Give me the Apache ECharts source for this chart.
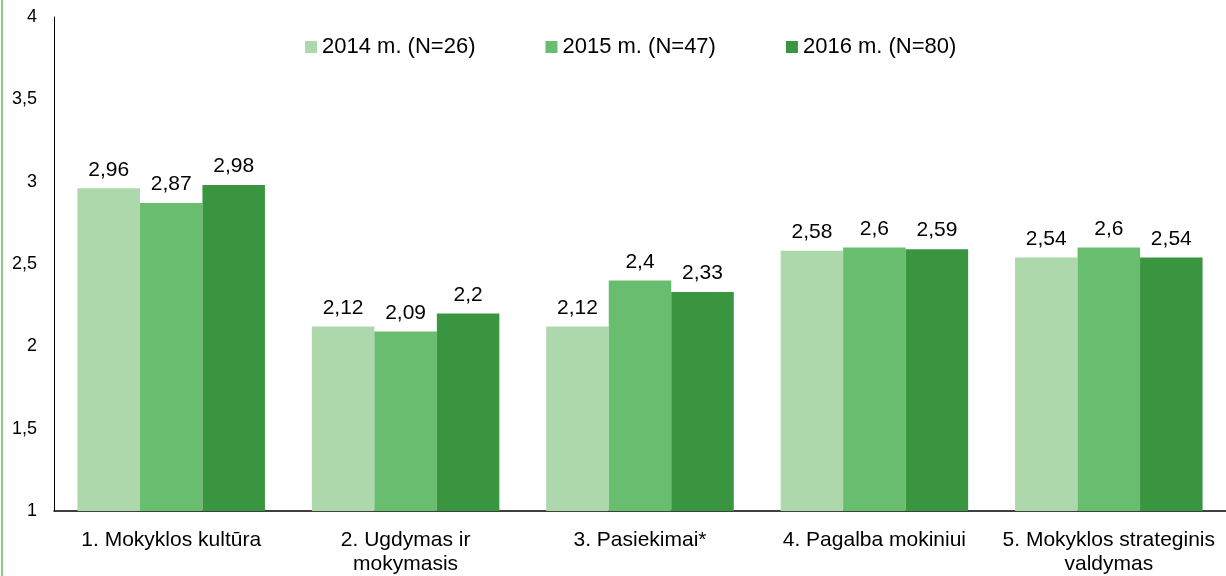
<!DOCTYPE html>
<html>
<head>
<meta charset="utf-8">
<script src="https://cdn.jsdelivr.net/npm/echarts@6/dist/echarts.min.js"></script>
<style>
html,body{margin:0;padding:0;background:#fff;}
#chart{width:1226px;height:576px;}
</style>
</head>
<body>
<div id="chart"></div>
<script>
var categories = ["1. Mokyklos kultūra", "2. Ugdymas ir\nmokymasis", "3. Pasiekimai*", "4. Pagalba mokiniui", "5. Mokyklos strateginis\nvaldymas"];
var seriesNames = ["2014 m. (N=26)", "2015 m. (N=47)", "2016 m. (N=80)"];
var values2014 = [2.96, 2.12, 2.12, 2.58, 2.54];
var values2015 = [2.87, 2.09, 2.40, 2.60, 2.60];
var values2016 = [2.98, 2.20, 2.33, 2.59, 2.54];
var colors = ["#add8ab", "#68bd6e", "#3a9540"];

var font = "'Liberation Sans', Arial, sans-serif";
function comma(v){ return String(v).replace('.', ','); }

var chart = echarts.init(document.getElementById('chart'));
var seriesData = [values2014, values2015, values2016];
var series = seriesData.map(function(d, i){
  return {
    name: seriesNames[i],
    type: 'bar',
    data: d,
    barGap: '0%',
    barCategoryGap: '20%',
    itemStyle: {color: colors[i]},
    label: {
      show: true,
      position: 'top',
      distance: 8,
      color: '#000',
      fontFamily: font,
      fontSize: 21,
      formatter: function(p){ return comma(p.value); }
    }
  };
});

chart.setOption({
  animation: false,
  backgroundColor: '#fff',
  graphic: [{
    type: 'rect',
    left: 1, top: 0,
    shape: {width: 2, height: 576},
    style: {fill: '#8ccf8c'}
  }],
  legend: {
    left: 300, top: 31,
    itemWidth: 12, itemHeight: 12,
    itemGap: 70,
    icon: 'rect',
    textStyle: {fontFamily: font, fontSize: 22, color: '#000'},
    data: seriesNames
  },
  grid: {left: 54, right: 0, top: 17, bottom: 60, containLabel: false},
  xAxis: {
    type: 'category',
    data: categories,
    axisLine: {lineStyle: {color: '#000', width: 1.5}},
    axisTick: {show: false},
    axisLabel: {
      interval: 0, margin: 17, color: '#000',
      fontFamily: font, fontSize: 21, lineHeight: 24
    }
  },
  yAxis: {
    type: 'value',
    min: 1, max: 4, interval: 0.5,
    splitLine: {show: false},
    axisLine: {show: true, lineStyle: {color: '#000', width: 1}},
    axisTick: {show: false},
    axisLabel: {
      margin: 17, color: '#000', fontFamily: font, fontSize: 18,
      padding: [6, 0, 0, 0],
      formatter: function(v){ return comma(v); }
    }
  },
  series: series
});
</script>
</body>
</html>
